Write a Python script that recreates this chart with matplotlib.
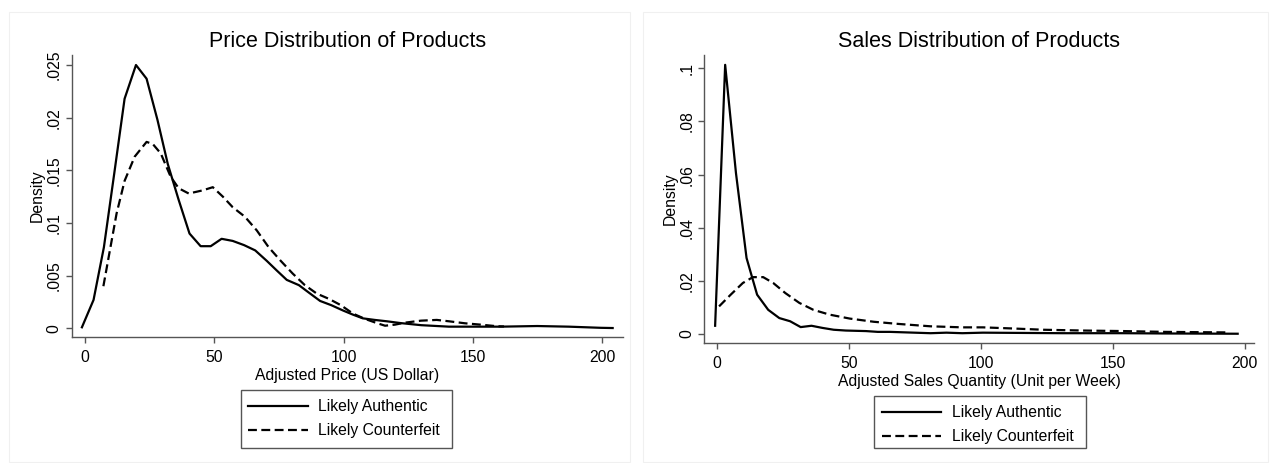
import matplotlib
matplotlib.use("Agg")
import matplotlib.pyplot as plt
from matplotlib.patches import Rectangle

plt.rcParams['font.family'] = ['Liberation Sans', 'DejaVu Sans']

# ---------------- Data ----------------
price_auth_x = [-1.2, 3.3, 7.3, 11.3, 15.3, 19.7, 23.8, 28.0, 32.0, 36.2, 40.4, 44.7,
                48.6, 52.8, 57.1, 61.5, 65.8, 70.3, 74.1, 78.0, 82.7, 86.5, 90.9,
                95.2, 99.7, 103.6, 107.4, 112.0, 116.7, 122.0, 130.0, 140.7, 150.0,
                160.8, 174.8, 187.0, 199.5, 204.0]
price_auth_y = [0.0001, 0.0027, 0.0077, 0.0147, 0.0218, 0.0250, 0.0237, 0.0198, 0.0156,
                0.0122, 0.0090, 0.0078, 0.0078, 0.0085, 0.0083, 0.0079, 0.0074, 0.0064,
                0.0055, 0.0046, 0.0041, 0.0034, 0.0026, 0.0022, 0.0017, 0.0013, 0.00095,
                0.0008, 0.00067, 0.0005, 0.0003, 0.00016, 0.00016, 0.00016, 0.00022,
                0.00016, 0.00005, 0.00003]

price_cf_x = [7.1, 12.2, 15.3, 19.2, 23.8, 26.2, 29.3, 33.1, 36.2, 40.1, 45.5, 49.4,
              53.3, 57.1, 61.8, 66.4, 71.0, 75.7, 80.3, 85.0, 89.6, 94.3, 98.9, 103.6,
              108.2, 112.8, 116.0, 119.8, 123.7, 129.9, 136.0, 140.7, 146.9, 153.0,
              159.3, 162.0]
price_cf_y = [0.0040, 0.0109, 0.0140, 0.0163, 0.0177, 0.0175, 0.0166, 0.0144, 0.0133,
              0.0128, 0.0131, 0.0134, 0.0125, 0.0115, 0.0106, 0.0093, 0.0077, 0.0064,
              0.0052, 0.0041, 0.0033, 0.0028, 0.0022, 0.0014, 0.0009, 0.0005, 0.00025,
              0.00035, 0.00054, 0.00073, 0.0008, 0.00067, 0.00048, 0.00035, 0.0002,
              0.00018]

sales_auth_x = [-0.6, 3.2, 7.3, 11.3, 15.3, 19.5, 23.7, 27.8, 31.8, 35.9, 40.0, 44.3,
                48.9, 56.5, 61.0, 65.6, 77.9, 81.0, 87.0, 93.0, 100.8, 116.0, 131.0,
                154.0, 169.0, 197.3]
sales_auth_y = [0.0031, 0.1013, 0.0605, 0.0286, 0.0148, 0.0091, 0.0060, 0.0048, 0.0026,
                0.0031, 0.0023, 0.0016, 0.0013, 0.0011, 0.0008, 0.0008, 0.0004, 0.0003,
                0.0005, 0.0003, 0.0005, 0.0004, 0.0003, 0.0003, 0.0002, 0.0001]

sales_cf_x = [0.9, 5.3, 9.9, 13.7, 17.6, 21.4, 26.0, 31.3, 36.6, 42.7, 50.4, 59.5, 68.7,
              80.9, 93.0, 100.8, 111.5, 123.7, 139.0, 154.0, 169.5, 193.0]
sales_cf_y = [0.0104, 0.0148, 0.0192, 0.0214, 0.0214, 0.0192, 0.0154, 0.0117, 0.0091,
              0.0073, 0.0058, 0.0046, 0.0038, 0.0029, 0.0025, 0.0025, 0.0021, 0.0016,
              0.0013, 0.0011, 0.0008, 0.0006]

series_labels = ["Likely Authentic", "Likely Counterfeit"]

x_ticks = [0, 50, 100, 150, 200]
x_tick_labels = ["0", "50", "100", "150", "200"]
price_y_ticks = [0, 0.005, 0.01, 0.015, 0.02, 0.025]
price_y_tick_labels = ["0", ".005", ".01", ".015", ".02", ".025"]
sales_y_ticks = [0, 0.02, 0.04, 0.06, 0.08, 0.1]
sales_y_tick_labels = ["0", ".02", ".04", ".06", ".08", ".1"]

titles = ["Price Distribution of Products", "Sales Distribution of Products"]
xlabels = ["Adjusted Price (US Dollar)", "Adjusted Sales Quantity (Unit per Week)"]

# ---------------- Figure ----------------
W, H = 1270, 463
fig = plt.figure(figsize=(W / 100, H / 100), dpi=100)
fig.patch.set_facecolor("white")


def fx(px):
    return px / W


def fy(py):
    return 1 - py / H


# faint panel frames
for (x0, x1) in [(9, 630), (643, 1268)]:
    fig.patches.append(Rectangle((fx(x0), fy(462)), fx(x1 - x0), (462 - 12) / H,
                                 transform=fig.transFigure, fill=False,
                                 edgecolor="#f0f0f0", lw=0.8))

ax1 = fig.add_axes([fx(71.7), fy(337.3), fx(623 - 71.7), (337.3 - 55) / H])
ax2 = fig.add_axes([fx(704.3), fy(343.3), fx(1254.3 - 704.3), (343.3 - 55) / H])

LW = 1.6
DASH = (4, 2)
spine_col = "#555555"

panels = [
    (ax1, price_auth_x, price_auth_y, price_cf_x, price_cf_y, (-5.15, 208.0),
     (-0.00085, 0.02595), price_y_ticks, price_y_tick_labels),
    (ax2, sales_auth_x, sales_auth_y, sales_cf_x, sales_cf_y, (-4.7, 203.6),
     (-0.0035, 0.105), sales_y_ticks, sales_y_tick_labels),
]

for i, (ax, ax_x, ax_y, cf_x, cf_y, xl, yl, yt, ytl) in enumerate(panels):
    ax.plot(ax_x, ax_y, color="black", lw=LW, solid_joinstyle="round",
            label=series_labels[0])
    ax.plot(cf_x, cf_y, color="black", lw=LW, dashes=DASH, label=series_labels[1])
    ax.set_xlim(*xl)
    ax.set_ylim(*yl)
    ax.set_xticks(x_ticks)
    ax.set_xticklabels(x_tick_labels)
    ax.set_yticks(yt)
    ax.set_yticklabels(ytl, rotation=90, va="center")
    for s in ["top", "right"]:
        ax.spines[s].set_visible(False)
    for s in ["left", "bottom"]:
        ax.spines[s].set_color(spine_col)
        ax.spines[s].set_linewidth(1.0)
    ax.tick_params(axis="both", length=4.3, width=1.0, color=spine_col,
                   labelsize=11.3, labelcolor="black")
    ax.tick_params(axis="x", pad=5)
    ax.tick_params(axis="y", pad=3)
    ax.set_title(titles[i], fontsize=15.5, pad=5.5)
    ax.set_xlabel(xlabels[i], fontsize=11.3, labelpad=2)
    ax.set_ylabel("Density", fontsize=11.3, labelpad=1)

# legends (frameless, with a separate box drawn like the reference)
leg_specs = [
    (ax1, (248.3, 399.0), (240.7, 390.0, 452.0, 447.7)),
    (ax2, (881.6, 405.0), (874.0, 396.0, 1086.0, 447.7)),
]
for ax, (lx, ly), (bx0, by0, bx1, by1) in leg_specs:
    leg = ax.legend(loc="upper left", bbox_to_anchor=(fx(lx), fy(ly)),
                    bbox_transform=fig.transFigure, frameon=False, fontsize=11.3,
                    handlelength=3.8, handletextpad=0.66, labelspacing=0.6,
                    borderpad=0, borderaxespad=0)
    fig.patches.append(Rectangle((fx(bx0), fy(by1)), fx(bx1 - bx0), (by1 - by0) / H,
                                 transform=fig.transFigure, fill=False,
                                 edgecolor="#555555", lw=1.0))

fig.savefig("out.png", dpi=100)
